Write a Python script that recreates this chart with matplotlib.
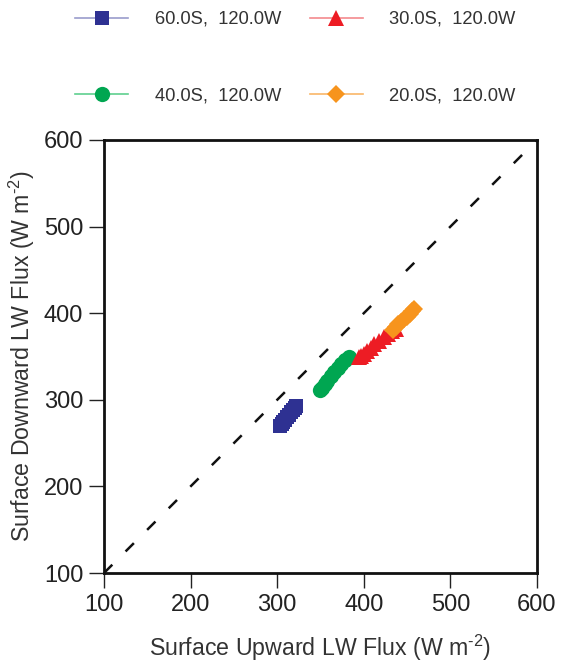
import matplotlib
matplotlib.use("Agg")
import matplotlib.pyplot as plt

plt.rcParams['font.family'] = ['Liberation Sans', 'DejaVu Sans']
plt.rcParams['mathtext.fontset'] = 'custom'
plt.rcParams['mathtext.rm'] = 'Liberation Sans'
plt.rcParams['mathtext.it'] = 'Liberation Sans'
plt.rcParams['mathtext.default'] = 'regular'

# Data
labels = ["60.0S,  120.0W", "40.0S,  120.0W", "30.0S,  120.0W", "20.0S,  120.0W"]

up_60s = [303, 305, 307, 309, 311, 314, 316, 318, 320, 322]
dn_60s = [270, 272, 274, 277, 280, 283, 286, 288, 291, 293]

up_40s = [349, 352, 355, 358, 362, 366, 370, 374, 378, 383]
dn_40s = [311, 314, 318, 322, 327, 332, 337, 341, 346, 350]

up_30s = [394, 397, 400, 404, 408, 412, 418, 423, 428, 433, 437]
dn_30s = [349, 351, 353, 356, 360, 364, 368, 372, 376, 379, 382]

up_20s = [434, 437, 440, 443, 446, 450, 453, 456, 458]
dn_20s = [381, 384, 387, 390, 393, 396, 399, 402, 405]

one_to_one = [100, 600]
ticks = [100, 200, 300, 400, 500, 600]

colors = ['#2e3192', '#00a651', '#ed1c24', '#f7941d']
markers = ['s', 'o', '^', 'D']
msizes = [10.5, 11, 11, 9]

fig = plt.figure(figsize=(5.61, 6.65), dpi=100)
ax = fig.add_axes([104/561, 1-573/665, 433/561, 433/665])

series = [(up_60s, dn_60s), (up_40s, dn_40s), (up_30s, dn_30s), (up_20s, dn_20s)]
handles = []
for (x, y), c, m, ms, lab in zip(series, colors, markers, msizes, labels):
    ax.plot(x, y, linestyle='none', marker=m, markersize=ms, color=c,
            markeredgewidth=0, zorder=3)
    h, = ax.plot([], [], color=c, marker=m, markersize=ms, markeredgewidth=0,
                 linewidth=1.2, label=lab)
    handles.append(h)

ax.plot(one_to_one, one_to_one, color='#111111', linewidth=1.8,
        dashes=(4.7, 7.5), dash_capstyle='butt', zorder=2)

ax.set_xlim(100, 600)
ax.set_ylim(100, 600)
ax.set_xticks(ticks)
ax.set_yticks(ticks)
ax.tick_params(direction='out', length=11, width=1, colors='#222222',
               labelsize=17, pad=4)
for s in ax.spines.values():
    s.set_linewidth(2)
    s.set_color('#111111')

ax.set_xlabel("Surface Upward LW Flux (W m$^{\\text{-}2}$)", fontsize=16.7,
              color='#333333', labelpad=12)
ax.set_ylabel("Surface Downward LW Flux (W m$^{\\text{-}2}$)", fontsize=16.7,
              color='#333333', labelpad=5)

leg = fig.legend(handles=[handles[0], handles[1], handles[2], handles[3]],
                 loc='upper left', bbox_to_anchor=(75/561, 1-11/665), ncol=2,
                 frameon=False, fontsize=13.2, handlelength=2.9,
                 handletextpad=1.45, columnspacing=1.55, labelspacing=3.23,
                 borderpad=0, borderaxespad=0)
for t in leg.get_texts():
    t.set_color('#333333')
light = ['#9a9ccc', '#5fcf8f', '#f38a8e', '#f9b668']
for lh, lc, c in zip(leg.get_lines(), light, colors):
    lh.set_color(lc)
    lh.set_markerfacecolor(c)
    lh.set_markeredgecolor(c)

fig.savefig("out.png", dpi=100)
